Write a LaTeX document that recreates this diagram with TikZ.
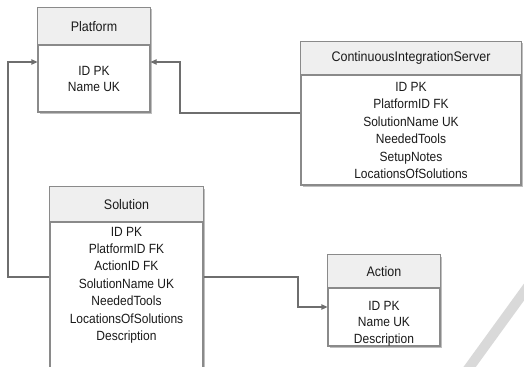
\documentclass[tikz,border=0pt]{standalone}
\usepackage{fontspec}
\setmainfont{Liberation Sans}
\newfontfamily\narrowf[FakeStretch=0.9]{Liberation Sans}
\usetikzlibrary{arrows.meta,fit}
\definecolor{bordc}{HTML}{8A8A8A}
\definecolor{hdrc}{HTML}{EFEFEF}
\definecolor{connc}{HTML}{6E6E6E}
\definecolor{txtc}{HTML}{1A1A1A}
\definecolor{stripec}{HTML}{D9D9D9}
\tikzset{
  ent/.style={draw=bordc, line width=0.8pt, fill=white, inner sep=0pt, rectangle},
  shad/.style={fill=black!25},
  hdr/.style={fill=hdrc},
  ttl/.style={font=\narrowf\fontsize{10.4}{11}\selectfont, text=txtc, inner sep=0pt},
  body/.style={font=\narrowf\fontsize{10}{#1}\selectfont, text=txtc, align=center, inner sep=0pt},
  conn/.style={draw=connc, line width=0.8pt, -{Triangle[length=4.5pt,width=4pt]}},
}
\begin{document}
\begin{tikzpicture}[x=0.75pt,y=-0.75pt]
\useasboundingbox (0,0) rectangle (524,367);
\clip (0,0) rectangle (524,367);
% background stripe
\draw[stripec, line width=7.5pt] (540,270) -- (458,383);
% shadows
\fill[shad] (39.5,9.5) rectangle (152,114);
\fill[shad] (302.5,43.5) rectangle (523,187);
\fill[shad] (51.5,188.5) rectangle (205,380);
\fill[shad] (329.5,256.5) rectangle (442,348);
% entities
\node[ent, fit={(38,8)(150,112)}] (platform) {};
\fill[hdr] (38.4,8.4) rectangle (149.6,45);
\draw[bordc, line width=0.8pt] (38,45) -- (150,45);
\draw[bordc, line width=0.8pt] (platform.north west) rectangle (platform.south east);
\node[ttl] (platformT) at (94,26.5) {Platform};
\node[body=11.5] (platformB) at (94,79) {ID PK\\Name UK};

\node[ent, fit={(301,42)(521,185)}] (cis) {};
\fill[hdr] (301.4,42.4) rectangle (520.6,75);
\draw[bordc, line width=0.8pt] (301,75) -- (521,75);
\draw[bordc, line width=0.8pt] (cis.north west) rectangle (cis.south east);
\node[ttl] (cisT) at (411,58) {ContinuousIntegrationServer};
\node[body=13.1] (cisB) at (411,130.5) {ID PK\\PlatformID FK\\SolutionName UK\\NeededTools\\SetupNotes\\LocationsOfSolutions};

\node[ent, fit={(50,187)(203,378)}] (solution) {};
\fill[hdr] (50.4,187.4) rectangle (202.6,222);
\draw[bordc, line width=0.8pt] (50,222) -- (203,222);
\draw[bordc, line width=0.8pt] (solution.north west) rectangle (solution.south east);
\node[ttl] (solutionT) at (126.5,205) {Solution};
\node[body=13.1] (solutionB) at (126.5,285.2) {ID PK\\PlatformID FK\\ActionID FK\\SolutionName UK\\NeededTools\\LocationsOfSolutions\\Description};

\node[ent, fit={(328,255)(440,346)}] (action) {};
\fill[hdr] (328.4,255.4) rectangle (439.6,288);
\draw[bordc, line width=0.8pt] (328,288) -- (440,288);
\draw[bordc, line width=0.8pt] (action.north west) rectangle (action.south east);
\node[ttl] (actionT) at (384,272) {Action};
\node[body=12.4] (actionB) at (384,323.5) {ID PK\\Name UK\\Description};

% connector bends
\coordinate (b1) at (8,277);
\coordinate (b2) at (8,62);
\coordinate (b3) at (180,113);
\coordinate (b4) at (180,62);
\coordinate (b5) at (298,277);
\coordinate (b6) at (298,307);

\draw[conn] (solution.west |- b1) -- (b1) -- (b2) -- (platform.west |- b2);
\draw[conn] (cis.west |- b3) -- (b3) -- (b4) -- (platform.east |- b4);
\draw[conn] (solution.east |- b5) -- (b5) -- (b6) -- (action.west |- b6);
\end{tikzpicture}
\end{document}
